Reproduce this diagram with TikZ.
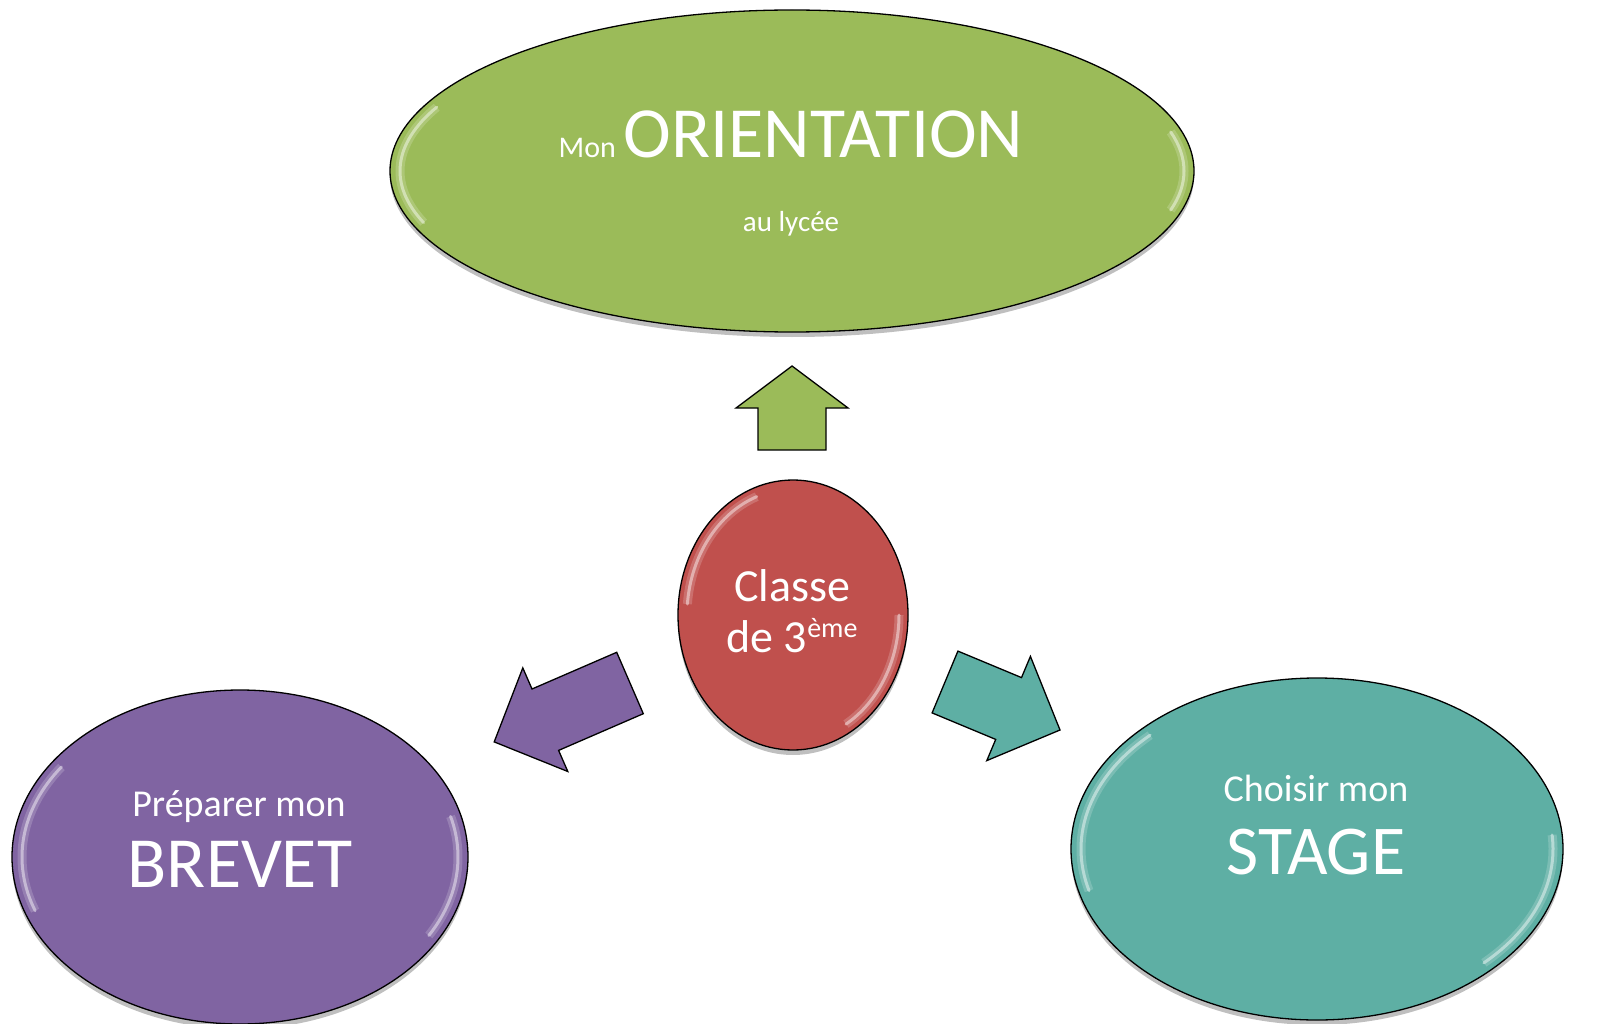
\documentclass[tikz,border=0pt]{standalone}
\usepackage{fontspec}
\setmainfont{Carlito}
\usetikzlibrary{shapes.geometric,shadows}
\definecolor{vert}{HTML}{9BBB59}
\definecolor{rouge}{HTML}{C0504D}
\definecolor{mauve}{HTML}{8064A2}
\definecolor{turquoise}{HTML}{5EAFA4}

\begin{document}
\begin{tikzpicture}[x=1pt,y=-1pt,
  bulle/.style={ellipse,draw=black,line width=1.3pt,inner sep=0pt,
    drop shadow={shadow xshift=0pt,shadow yshift=-5pt,opacity=0.25,fill=black}},
  fleche/.style={draw=black,line width=1.3pt,line join=miter},
  reflet/.style={white,line width=3pt,opacity=0.45,line cap=round,
    preaction={draw,white,line width=9pt,opacity=0.18}},
  texte/.style={text=white,inner sep=0pt,anchor=base}]
\useasboundingbox (0,0) rectangle (1608,1024);
\clip (0,0) rectangle (1608,1024);

\node[bulle,fill=vert,minimum width=804,minimum height=322] (orientation) at (792,171) {};
\node[bulle,fill=rouge,minimum width=230,minimum height=270] (classe) at (793,615) {};
\node[bulle,fill=mauve,minimum width=456,minimum height=334] (brevet) at (240,857) {};
\node[bulle,fill=turquoise,minimum width=492,minimum height=342] (stage) at (1317,849) {};

\draw[reflet] (orientation.center) ++(160:392 and 151) arc[start angle=160,end angle=205,x radius=392,y radius=151];
\draw[reflet] (orientation.center) ++(-15:392 and 151) arc[start angle=-15,end angle=15,x radius=392,y radius=151];
\draw[reflet] (classe.center) ++(185:106 and 126) arc[start angle=185,end angle=250,x radius=106,y radius=126];
\draw[reflet] (classe.center) ++(0:106 and 126) arc[start angle=0,end angle=60,x radius=106,y radius=126];
\draw[reflet] (brevet.center) ++(160:218 and 157) arc[start angle=160,end angle=215,x radius=218,y radius=157];
\draw[reflet] (brevet.center) ++(-15:218 and 157) arc[start angle=-15,end angle=30,x radius=218,y radius=157];
\draw[reflet] (stage.center) ++(165:236 and 161) arc[start angle=165,end angle=225,x radius=236,y radius=161];
\draw[reflet] (stage.center) ++(-5:236 and 161) arc[start angle=-5,end angle=45,x radius=236,y radius=161];

\draw[fleche,fill=vert] (792,366) -- (848,408) -- (826,408) -- (826,450) -- (758,450) -- (758,408) -- (736,408) -- cycle;
\draw[fleche,fill=mauve] (494.2,741.9) -- (522.8,667.9) -- (532,689) -- (616.7,652.3) -- (643.3,713.7) -- (558.6,750.4) -- (567.8,771.5) -- cycle;
\draw[fleche,fill=turquoise] (1060,730) -- (1030.4,656.4) -- (1021.5,677.6) -- (957.9,651.1) -- (932.1,712.9) -- (995.7,739.4) -- (986.8,760.6) -- cycle;

\node[texte,font=\fontsize{72}{80}\selectfont] (titre) at (791,158) {{\fontsize{30}{36}\selectfont Mon\hspace{8pt}}ORIENTATION};
\node[texte,font=\fontsize{29}{34}\selectfont] (lycee) at (791,232) {au lycée};
\node[texte,font=\fontsize{46}{52}\selectfont] (classe1) at (792,601) {Classe};
\node[texte,font=\fontsize{46}{52}\selectfont] (classe2) at (792,652) {de 3\raisebox{15pt}{\fontsize{28}{32}\selectfont ème}};
\node[texte,font=\fontsize{38}{44}\selectfont] (preparer) at (239,816) {Préparer mon};
\node[texte,font=\fontsize{72}{80}\selectfont] (brevet1) at (240,887) {BREVET};
\node[texte,font=\fontsize{38}{44}\selectfont] (choisir) at (1316,801) {Choisir mon};
\node[texte,font=\fontsize{70}{78}\selectfont] (stage1) at (1316,874) {STAGE};
\end{tikzpicture}
\end{document}
